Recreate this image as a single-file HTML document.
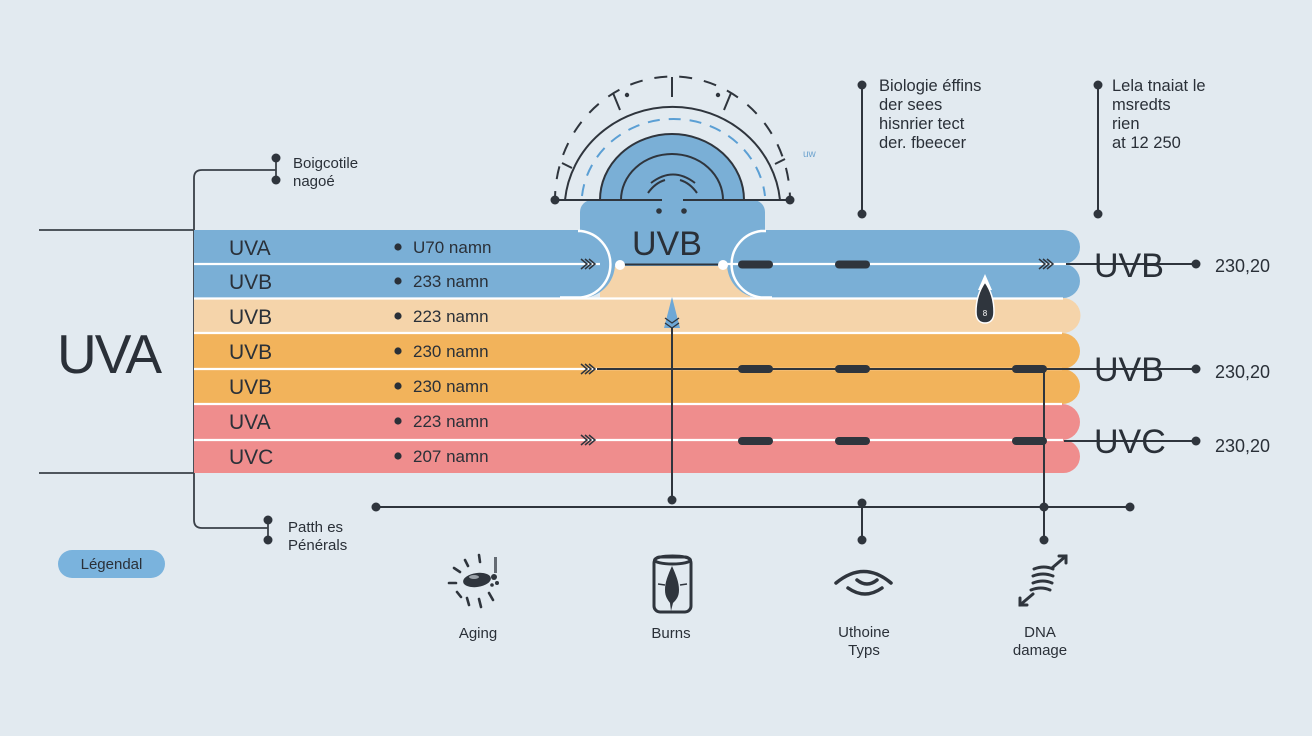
<!DOCTYPE html>
<html><head><meta charset="utf-8"><style>
html,body{margin:0;padding:0;background:#e2eaf0;}
svg{display:block;}
text{font-family:"Liberation Sans",Arial,sans-serif;fill:#2a3038;}
</style></head><body>
<svg width="1312" height="736" viewBox="0 0 1312 736" xmlns="http://www.w3.org/2000/svg">
<rect width="1312" height="736" fill="#e2eaf0"/>

<!-- left bracket lines -->
<g stroke="#3a4048" stroke-width="1.8" fill="none">
<line x1="39" y1="230" x2="194" y2="230"/>
<line x1="39" y1="473" x2="194" y2="473"/>
<path d="M276,170 H202 Q194,170 194,178 V520 Q194,528 202,528 H268"/>
<line x1="276" y1="158" x2="276" y2="180"/>
<line x1="268" y1="520" x2="268" y2="540"/>
</g>
<g fill="#2f353d">
<circle cx="276" cy="158" r="4.5"/><circle cx="276" cy="180" r="4.5"/>
<circle cx="268" cy="520" r="4.5"/><circle cx="268" cy="540" r="4.5"/>
</g>
<text x="293" y="168" font-size="15">Boigcotile</text>
<text x="293" y="186" font-size="15">nagoé</text>
<text x="288" y="532" font-size="15">Patth es</text>
<text x="288" y="550" font-size="15">Pénérals</text>

<!-- big UVA -->
<text x="57" y="373" font-size="55" letter-spacing="-2">UVA</text>

<!-- legend pill -->
<rect x="58" y="550" width="107" height="28" rx="14" fill="#7ab3dd"/>
<text x="111.5" y="569" font-size="15" text-anchor="middle">Légendal</text>

<!-- blob / semicircle -->
<rect x="600" y="262" width="150" height="40" fill="#f5d4aa"/>
<rect x="580" y="200" width="185" height="66" rx="12" fill="#7aafd6"/>
<path d="M600,200 A72 66 0 0 1 744,200 Z" fill="#7aafd6"/>

<!-- bands -->
<path d="M194,298 H1063 A17.5 17.5 0 0 1 1063,333 H194 Z" fill="#f5d4aa"/>
<path d="M194,333 H1062 A18 18 0 0 1 1062,369 H194 Z" fill="#f2b35b"/>
<path d="M194,369 H1062.5 A17.5 17.5 0 0 1 1062.5,404 H194 Z" fill="#f2b35b"/>
<path d="M194,404 H1062 A18 18 0 0 1 1062,440 H194 Z" fill="#ef8d8d"/>
<path d="M194,440 H1063.5 A16.5 16.5 0 0 1 1063.5,473 H194 Z" fill="#ef8d8d"/>
<path d="M194,230 H581 A34 34 0 0 1 581,298 H194 Z" fill="#7aafd6"/>
<path d="M761,230 H1063 A17 17 0 0 1 1063,264 A17 17 0 0 1 1063,298 H761 A34 34 0 0 1 761,230 Z" fill="#7aafd6"/>

<!-- white separators -->
<g stroke="#ffffff" stroke-width="2.2" fill="none">
<line x1="194" y1="264" x2="600" y2="264"/>
<line x1="727" y1="264" x2="1080" y2="264"/>
<line x1="194" y1="298.5" x2="1063" y2="298.5"/>
<line x1="194" y1="333" x2="1062" y2="333"/>
<line x1="194" y1="369" x2="1062" y2="369"/>
<line x1="194" y1="404" x2="1062" y2="404"/>
<line x1="194" y1="440" x2="1063" y2="440"/>
<path d="M578,231 H581 A33.5 33.5 0 0 1 581,297.5 H560" stroke-width="2.5"/>
<path d="M766,231 H761 A33.5 33.5 0 0 0 761,297.5 H772" stroke-width="2.5"/>
</g>

<!-- semicircle decorations -->
<g fill="none" stroke="#2f353d" stroke-width="2">
<path d="M600,200 A72 66 0 0 1 744,200"/>
<path d="M621,200 A51 46 0 0 1 723,200"/>
<path d="M651,183 Q673,166 695,183"/>
<path d="M648,193 Q655,183 665,180"/>
<path d="M697,193 Q690,183 680,180"/>
<path d="M565,200 A108 103 0 0 1 780,200"/>
<path d="M555,200 A117 123 0 0 1 790,200" stroke-dasharray="13 12" stroke-dashoffset="4"/>
<line x1="555" y1="200" x2="662" y2="200"/>
<line x1="683" y1="200" x2="790" y2="200"/>
<line x1="672" y1="77" x2="672" y2="97"/>
<line x1="613" y1="93" x2="620" y2="110"/>
<line x1="731" y1="93" x2="724" y2="110"/>
<line x1="562" y1="163" x2="572" y2="168"/>
<line x1="785" y1="159" x2="775" y2="164"/>
</g>
<path d="M582,196 A92 86 0 0 1 765,196" fill="none" stroke="#5b9fd4" stroke-width="2" stroke-dasharray="12 9"/>
<g fill="#2f353d">
<circle cx="555" cy="200" r="4.5"/><circle cx="790" cy="200" r="4.5"/>
<circle cx="659" cy="211" r="2.8"/><circle cx="684" cy="211" r="2.8"/>
<circle cx="627" cy="95" r="2.2"/><circle cx="718" cy="95" r="2.2"/>
</g>
<text x="803" y="157" font-size="10" style="fill:#6ea4cf">uw</text>
<text x="632" y="255" font-size="34">UVB</text>

<!-- row labels -->
<g font-size="21">
<text x="229" y="255">UVA</text>
<text x="229" y="289">UVB</text>
<text x="229" y="324">UVB</text>
<text x="229" y="359">UVB</text>
<text x="229" y="394">UVB</text>
<text x="229" y="429">UVA</text>
<text x="229" y="464">UVC</text>
</g>
<g fill="#2a3038">
<circle cx="398" cy="247" r="3.6"/><circle cx="398" cy="281" r="3.6"/>
<circle cx="398" cy="316" r="3.6"/><circle cx="398" cy="351" r="3.6"/>
<circle cx="398" cy="386" r="3.6"/><circle cx="398" cy="421" r="3.6"/>
<circle cx="398" cy="456" r="3.6"/>
</g>
<g font-size="17">
<text x="413" y="253">U70 namn</text>
<text x="413" y="287">233 namn</text>
<text x="413" y="322">223 namn</text>
<text x="413" y="357">230 namn</text>
<text x="413" y="392">230 namn</text>
<text x="413" y="427">223 namn</text>
<text x="413" y="462">207 namn</text>
</g>

<!-- connectors -->
<g stroke="#2f353d" stroke-width="2" fill="none">
<line x1="620" y1="264.5" x2="723" y2="264.5"/>
<line x1="597" y1="369" x2="1196" y2="369"/>
<line x1="1066" y1="264" x2="1196" y2="264"/>
<line x1="1064" y1="441" x2="1196" y2="441"/>
<line x1="1044" y1="369" x2="1044" y2="540"/>
<line x1="672" y1="318" x2="672" y2="500"/>
<line x1="376" y1="507" x2="1130" y2="507"/>
<line x1="862" y1="503" x2="862" y2="540"/>
<line x1="862" y1="85" x2="862" y2="214"/>
<line x1="1098" y1="85" x2="1098" y2="214"/>
</g>
<g fill="#ffffff">
<circle cx="620" cy="265" r="5"/><circle cx="723" cy="265" r="5"/>
</g>
<g fill="#2f353d">
<rect x="738" y="260.5" width="35" height="8" rx="4"/>
<rect x="835" y="260.5" width="35" height="8" rx="4"/>
<rect x="738" y="365" width="35" height="8" rx="4"/>
<rect x="835" y="365" width="35" height="8" rx="4"/>
<rect x="1012" y="365" width="35" height="8" rx="4"/>
<rect x="738" y="437" width="35" height="8" rx="4"/>
<rect x="835" y="437" width="35" height="8" rx="4"/>
<rect x="1012" y="437" width="35" height="8" rx="4"/>
<circle cx="1196" cy="264" r="4.5"/><circle cx="1196" cy="369" r="4.5"/><circle cx="1196" cy="441" r="4.5"/>
<circle cx="376" cy="507" r="4.5"/><circle cx="1130" cy="507" r="4.5"/>
<circle cx="672" cy="500" r="4.5"/>
<circle cx="862" cy="503" r="4.5"/><circle cx="862" cy="540" r="4.5"/>
<circle cx="1044" cy="507" r="4.5"/><circle cx="1044" cy="540" r="4.5"/>
<circle cx="862" cy="85" r="4.5"/><circle cx="862" cy="214" r="4.5"/>
<circle cx="1098" cy="85" r="4.5"/><circle cx="1098" cy="214" r="4.5"/>
</g>

<!-- chevrons -->
<g stroke="#2f353d" stroke-width="1.5" fill="none">
<path d="M581,259 l6,5 l-6,5 M585,259 l6,5 l-6,5 M589,259 l6,5 l-6,5"/>
<path d="M581,364 l6,5 l-6,5 M585,364 l6,5 l-6,5 M589,364 l6,5 l-6,5"/>
<path d="M581,435 l6,5 l-6,5 M585,435 l6,5 l-6,5 M589,435 l6,5 l-6,5"/>
<path d="M1039,259 l6,5 l-6,5 M1043,259 l6,5 l-6,5 M1047,259 l6,5 l-6,5"/>
</g>

<!-- center drop icon -->
<path d="M672,297 L664,328 L680,328 Z" fill="#6fa8d6"/>
<g stroke="#2f353d" stroke-width="1.3" fill="none">
<path d="M665,318 l7,5 l7,-5 M665,323 l7,5 l7,-5"/>
</g>
<!-- right teardrop icon -->
<path d="M985,274 L978,290 L992,290 Z" fill="#ffffff"/>
<path d="M985,282 C978,292 976,302 976,312 C976,320 980,323 985,323 C990,323 994,320 994,312 C994,302 992,292 985,282 Z" fill="#2f353d" stroke="#ffffff" stroke-width="1.5"/>
<text x="985" y="316" font-size="8" text-anchor="middle" style="fill:#fff">8</text>

<!-- right labels -->
<g font-size="34">
<text x="1094" y="277">UVB</text>
<text x="1094" y="381">UVB</text>
<text x="1094" y="453">UVC</text>
</g>
<g font-size="18">
<text x="1215" y="272">230,20</text>
<text x="1215" y="378">230,20</text>
<text x="1215" y="452">230,20</text>
</g>

<!-- top notes -->
<g font-size="16.5">
<text x="879" y="91">Biologie éffins</text>
<text x="879" y="110">der sees</text>
<text x="879" y="129">hisnrier tect</text>
<text x="879" y="148">der. fbeecer</text>
<text x="1112" y="91">Lela tnaiat le</text>
<text x="1112" y="110">msredts</text>
<text x="1112" y="129">rien</text>
<text x="1112" y="148">at 12 250</text>
</g>

<!-- icons -->
<g stroke="#2f353d" stroke-width="2.6" stroke-linecap="round" fill="none">
<line x1="465" y1="560" x2="468" y2="566"/>
<line x1="479" y1="555" x2="480" y2="562"/>
<line x1="454" y1="568" x2="460" y2="572"/>
<line x1="449" y1="583" x2="456" y2="583"/>
<line x1="457" y1="592" x2="461" y2="597"/>
<line x1="467" y1="598" x2="469" y2="605"/>
<line x1="479" y1="599" x2="481" y2="607"/>
<line x1="489" y1="593" x2="493" y2="600"/>
</g>
<ellipse cx="477" cy="580" rx="14" ry="7" transform="rotate(-8 477 580)" fill="#2f353d"/>
<ellipse cx="474" cy="577" rx="5" ry="2" fill="#e2eaf0" opacity="0.6"/>
<g fill="#2f353d">
<circle cx="494" cy="577" r="3"/><circle cx="497" cy="583" r="2"/><circle cx="492" cy="585" r="1.8"/>
<rect x="494" y="557" width="3" height="16" opacity="0.7"/>
</g>

<g stroke="#2f353d" stroke-width="3" fill="none">
<rect x="654" y="557" width="37" height="55" rx="6"/>
<ellipse cx="672.5" cy="560" rx="18" ry="4"/>
</g>
<path d="M672,566 C668,575 665,582 665,590 C665,597 668,600 670,603 L671,611 L673,603 C676,600 679,597 679,590 C679,582 676,575 672,566 Z" fill="#2f353d"/>
<g stroke="#2f353d" stroke-width="1.5"><line x1="658" y1="584" x2="665" y2="585"/><line x1="680" y1="585" x2="687" y2="584"/></g>

<g stroke="#2f353d" stroke-width="3.5" stroke-linecap="round" fill="none">
<path d="M836,583 Q864,560 891,583"/>
<path d="M857,580 Q867,588 877,580"/>
<path d="M848,588 Q865,600 882,588"/>
</g>

<g stroke="#2f353d" stroke-width="3" stroke-linecap="round" fill="none">
<path d="M1034,569 Q1044,565 1053,569"/>
<path d="M1033,576 Q1043,572 1053,576"/>
<path d="M1033,583 Q1043,579 1052,583"/>
<path d="M1031,590 Q1041,586 1050,590"/>
<path d="M1052,568 L1066,556"/>
<path d="M1059,556 L1066,556 L1066,563"/>
<path d="M1033,594 L1020,605"/>
<path d="M1020,598 L1020,605 L1027,605"/>
</g>

<g font-size="15" text-anchor="middle">
<text x="478" y="638">Aging</text>
<text x="671" y="638">Burns</text>
<text x="864" y="637">Uthoine</text>
<text x="864" y="655">Typs</text>
<text x="1040" y="637">DNA</text>
<text x="1040" y="655">damage</text>
</g>
</svg>
</body></html>
